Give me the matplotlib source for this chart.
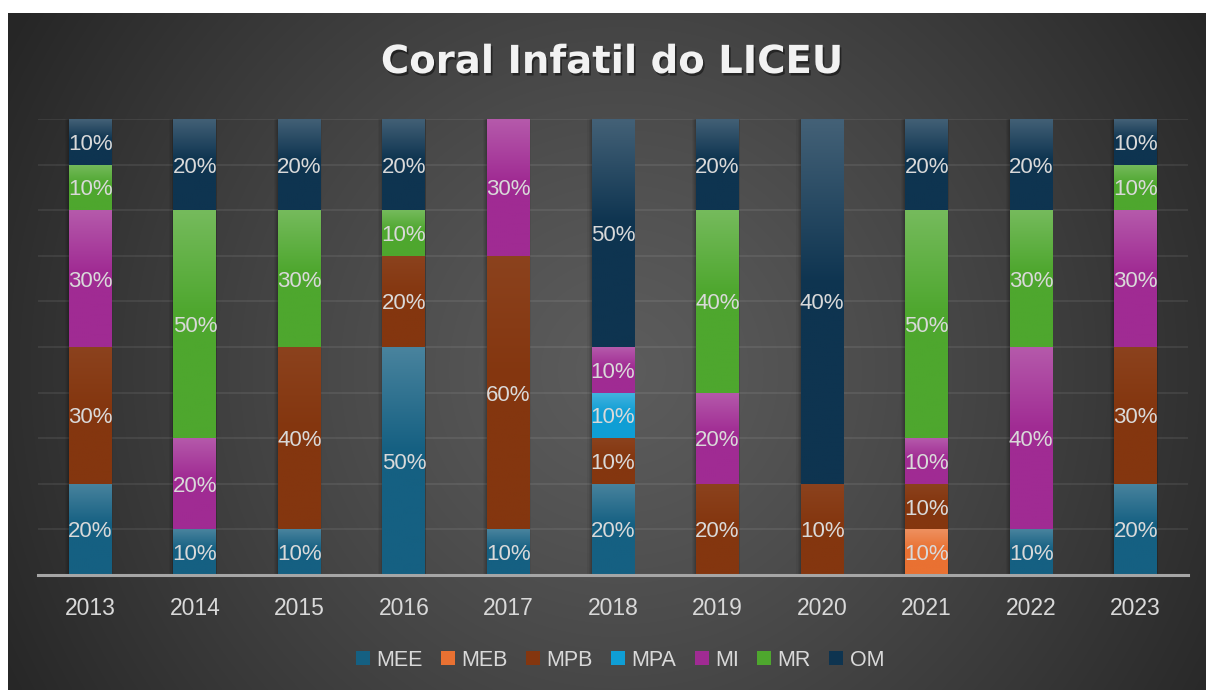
import numpy as np
import matplotlib
matplotlib.use("Agg")
import matplotlib.pyplot as plt
from matplotlib.patches import Rectangle
import matplotlib.patheffects as pe
from matplotlib.colors import to_rgb

# ---------------- data ----------------
years = ["2013", "2014", "2015", "2016", "2017", "2018", "2019", "2020", "2021", "2022", "2023"]
series_names = ["MEE", "MEB", "MPB", "MPA", "MI", "MR", "OM"]
MEE = [20, 10, 10, 50, 10, 20, 0, 0, 0, 10, 20]
MEB = [0, 0, 0, 0, 0, 0, 0, 0, 10, 0, 0]
MPB = [30, 0, 40, 20, 60, 10, 20, 10, 10, 0, 30]
MPA = [0, 0, 0, 0, 0, 10, 0, 0, 0, 0, 0]
MI = [30, 20, 0, 0, 30, 10, 20, 0, 10, 40, 30]
MR = [10, 50, 30, 10, 0, 0, 40, 0, 50, 30, 10]
OM = [10, 20, 20, 20, 0, 50, 20, 40, 20, 20, 10]
title = "Coral Infatil do LICEU"

colors = ["#156082", "#E97132", "#84360F", "#0F9ED5", "#A02B93", "#4EA72E", "#0E3450"]
series_values = [MEE, MEB, MPB, MPA, MI, MR, OM]

W, H = 1206, 690
fig = plt.figure(figsize=(W / 100, H / 100), dpi=100)
fig.patch.set_facecolor("white")

# ---------------- background (radial gradient) ----------------
bg = fig.add_axes([8 / W, 0, 1 - 8 / W, 1 - 13 / H])
bg.set_axis_off()
yy, xx = np.mgrid[13:690:2, 8:1206:2]
d = np.sqrt((xx - 620.0) ** 2 + (yy - 370.0) ** 2) / 700.0
t = np.clip(d, 0, 1) ** 1.2
val = (92 - (92 - 38) * t) / 255.0
img = np.dstack([val, val, val])
bg.imshow(img, extent=(0, 1, 0, 1), aspect="auto", origin="upper", interpolation="bilinear")
bg.set_xlim(0, 1)
bg.set_ylim(0, 1)

# ---------------- main axes ----------------
ax = fig.add_axes([38 / W, 115 / H, 1150 / W, 456 / H])
ax.patch.set_alpha(0)
n = len(years)
x = np.arange(n)
width = 0.41

data = np.array(series_values, dtype=float)
totals = data.sum(axis=0)
shares = data / totals

# soft shadows behind each bar
px_x = 1.0 / 104.5
px_y = 1.0 / 456.0
for i in range(n):
    for k, a in zip([7, 5, 3, 1.5], [0.05, 0.06, 0.07, 0.08]):
        ax.add_patch(Rectangle((x[i] - width / 2 - k * px_x * 0.6, -k * px_y * 0.2),
                               width + 1.2 * k * px_x * 0.6, 1 + k * px_y * 0.6,
                               facecolor="black", edgecolor="none", alpha=a, zorder=1.5))

def lighten(c, f):
    r, g, b = to_rgb(c)
    return (r + (1 - r) * f, g + (1 - g) * f, b + (1 - b) * f)

bottom = np.zeros(n)
handles = []
for s, name in enumerate(series_names):
    h = shares[s]
    bars = ax.bar(x, h, width, bottom=bottom, color=colors[s], edgecolor="none",
                  label=name, zorder=2)
    handles.append(bars)
    base = np.array(to_rgb(colors[s]))
    top = np.array(lighten(colors[s], 0.22 if name != "MPB" else 0.06))
    for i in range(n):
        if h[i] <= 0:
            continue
        y0 = bottom[i]
        y1 = bottom[i] + h[i]
        N = 64
        frac = np.linspace(0, 1, N)  # 0 at top
        w = np.clip(frac / 0.45, 0, 1)
        grad = (top[None, :] * (1 - w[:, None]) + base[None, :] * w[:, None])
        grad = grad[:, None, :]
        ax.imshow(grad, extent=(x[i] - width / 2, x[i] + width / 2, y0, y1),
                  aspect="auto", origin="upper", interpolation="bilinear", zorder=2.1)
        ax.text(x[i], y0 + h[i] / 2 - 2.5 * px_y, f"{int(series_values[s][i])}%", ha="center",
                va="center", color="#D9D9D9", fontsize=16, family="Liberation Sans",
                zorder=3)
    bottom = bottom + h

ax.set_xlim(-0.5, n - 0.5)
ax.set_ylim(0, 1)
ax.set_yticks(np.linspace(0, 1, 11))
ax.yaxis.grid(True, color="white", alpha=0.09, linewidth=1.2)
ax.set_axisbelow(True)
ax.tick_params(axis="y", left=False, labelleft=False)
ax.set_xticks(x)
ax.set_xticklabels(years, color="#D9D9D9", fontsize=16.5, family="Liberation Sans")
ax.tick_params(axis="x", length=0, pad=15.5)
for sp in ["top", "right", "left"]:
    ax.spines[sp].set_visible(False)
ax.spines["bottom"].set_color("#A6A6A6")
ax.spines["bottom"].set_linewidth(2.2)
ax.spines["bottom"].set_zorder(4)

# ---------------- title ----------------
fig.text(612 / W, 1 - 73 / H, title, ha="center", va="baseline", fontsize=27.8,
         fontweight="bold", family="DejaVu Sans", color="#F2F2F2",
         path_effects=[pe.withSimplePatchShadow(offset=(1.2, -1.8), shadow_rgbFace="black", alpha=0.45)])

# ---------------- legend ----------------
leg = fig.legend(handles, series_names, loc="center", bbox_to_anchor=(620 / W, 1 - 660 / H),
                 ncol=7, frameon=False, prop={"family": "Liberation Sans", "size": 15.5},
                 handlelength=0.65, handleheight=0.65, handletextpad=0.3,
                 columnspacing=0.85, labelcolor="#D9D9D9")

fig.savefig("out.png", dpi=100, facecolor=fig.get_facecolor())
